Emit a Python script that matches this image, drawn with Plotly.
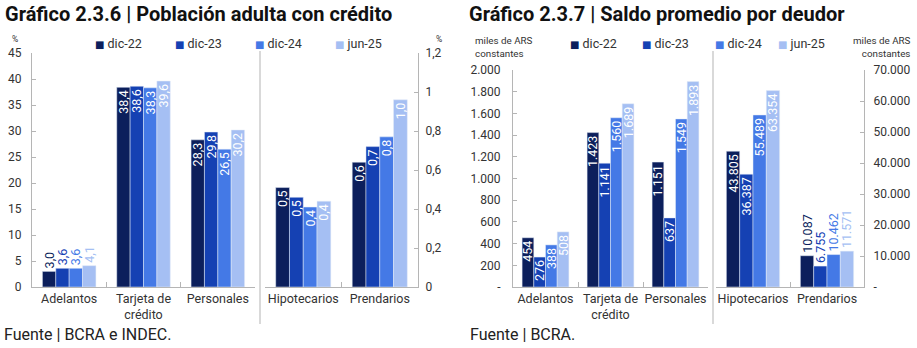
import plotly.graph_objects as go

W, H = 917, 348

series = ["dic-22", "dic-23", "dic-24", "jun-25"]
colors = ["#0C1F5C", "#1541B3", "#4479E6", "#A5BFF3"]

cat_left = ["Adelantos", "Tarjeta de<br>crédito", "Personales"]
cat_right = ["Hipotecarios", "Prendarios"]

# Gráfico 2.3.6 - Población adulta con crédito (%)
pob_dic22 = [3.0, 38.4, 28.3, 0.51, 0.64]
pob_dic23 = [3.6, 38.6, 29.8, 0.46, 0.72]
pob_dic24 = [3.6, 38.3, 26.5, 0.41, 0.77]
pob_jun25 = [4.1, 39.6, 30.2, 0.44, 0.96]
pob_textpos = ["outside", "inside", "inside", "inside", "inside"]

# Gráfico 2.3.7 - Saldo promedio por deudor (miles de ARS constantes)
saldo_dic22 = [454, 1423, 1151, 43805, 10087]
saldo_dic23 = [276, 1141, 637, 36387, 6755]
saldo_dic24 = [388, 1560, 1549, 55489, 10462]
saldo_jun25 = [508, 1689, 1893, 63354, 11571]
saldo_textpos = ["inside", "inside", "inside", "inside", "outside"]

pob_y1_ticks = [0, 5, 10, 15, 20, 25, 30, 35, 40, 45]
pob_y2_ticks = [0, 0.2, 0.4, 0.6, 0.8, 1.0, 1.2]
pob_y2_text = ["0", "0,2", "0,4", "0,6", "0,8", "1", "1,2"]
saldo_y1_ticks = [0, 200, 400, 600, 800, 1000, 1200, 1400, 1600, 1800, 2000]
saldo_y2_ticks = [0, 10000, 20000, 30000, 40000, 50000, 60000, 70000]

FONT = "Roboto"
AXC = "#B5B5B5"
TXT = "#333333"
LBL = 12.5


def px(x):
    return x / W


def py(y):
    return 1 - y / H


def fmt_pob(v):
    return f"{v:.1f}".replace(".", ",")


def fmt_saldo(v):
    return f"{v:,}".replace(",", ".")


fig = go.Figure()

pob_all = [pob_dic22, pob_dic23, pob_dic24, pob_jun25]
saldo_all = [saldo_dic22, saldo_dic23, saldo_dic24, saldo_jun25]

for name, col, vals in zip(series, colors, pob_all):
    for cats, sl, xa, ya in [(cat_left, slice(0, 3), "x", "y"), (cat_right, slice(3, 5), "x2", "y2")]:
        v = vals[sl]
        fig.add_trace(go.Bar(
            x=cats, y=v, name=name, marker_color=col, showlegend=False,
            text=[fmt_pob(a) for a in v], textposition=pob_textpos[sl],
            textangle=-90, insidetextanchor="end", constraintext="none",
            cliponaxis=False,
            insidetextfont=dict(color="white", size=LBL, family=FONT),
            outsidetextfont=dict(color=col, size=LBL, family=FONT),
            xaxis=xa, yaxis=ya, hoverinfo="skip"))

for name, col, vals in zip(series, colors, saldo_all):
    for cats, sl, xa, ya in [(cat_left, slice(0, 3), "x3", "y3"), (cat_right, slice(3, 5), "x4", "y4")]:
        v = vals[sl]
        fig.add_trace(go.Bar(
            x=cats, y=v, name=name, marker_color=col, showlegend=False,
            text=[fmt_saldo(a) for a in v], textposition=saldo_textpos[sl],
            textangle=-90, insidetextanchor="end", constraintext="none",
            cliponaxis=False,
            insidetextfont=dict(color="white", size=LBL, family=FONT),
            outsidetextfont=dict(color=col, size=LBL, family=FONT),
            xaxis=xa, yaxis=ya, hoverinfo="skip"))

xcommon = dict(type="category", showline=True, linecolor=AXC, linewidth=1,
               ticks="inside", tickson="boundaries", ticklen=5, tickcolor=AXC,
               showgrid=False, zeroline=False, fixedrange=True, automargin=False,
               tickangle=0, tickfont=dict(family=FONT, size=12.5, color=TXT))
ycommon = dict(showline=True, linecolor=AXC, linewidth=1, ticks="inside",
               ticklen=4, tickcolor=AXC, showgrid=False, zeroline=False,
               fixedrange=True, automargin=False,
               tickfont=dict(family=FONT, size=12, color=TXT))

dom_left = [py(287), py(53)]
dom_right = [py(287), py(70)]

fig.update_layout(
    width=W, height=H, margin=dict(l=0, r=0, t=0, b=0, autoexpand=False),
    paper_bgcolor="white", plot_bgcolor="white",
    barmode="group", bargap=0.28, bargroupgap=0,
    showlegend=False, hovermode=False,
    uniformtext=dict(minsize=LBL, mode="show"),
    font=dict(family=FONT, color=TXT),
    xaxis=dict(xcommon, domain=[px(32), px(255)], anchor="y", range=[-0.5, 2.5]),
    yaxis=dict(ycommon, domain=dom_left, anchor="x", range=[0, 45],
               tickvals=pob_y1_ticks, ticklabelstandoff=7),
    xaxis2=dict(xcommon, domain=[px(265), px(418)], anchor="y2", range=[-0.5, 1.5]),
    yaxis2=dict(ycommon, domain=dom_left, anchor="x2", side="right", range=[0, 1.2],
                tickvals=pob_y2_ticks, ticktext=pob_y2_text, ticklabelstandoff=4),
    xaxis3=dict(xcommon, domain=[px(513), px(708)], anchor="y3", range=[-0.5, 2.5]),
    yaxis3=dict(ycommon, domain=dom_right, anchor="x3", range=[0, 2000],
                tickvals=saldo_y1_ticks,
                ticktext=["-"] + [fmt_saldo(t) for t in saldo_y1_ticks[1:]],
                ticklabelstandoff=9),
    xaxis4=dict(xcommon, domain=[px(716), px(864)], anchor="y4", range=[-0.5, 1.5]),
    yaxis4=dict(ycommon, domain=dom_right, anchor="x4", side="right", range=[0, 70000],
                tickvals=saldo_y2_ticks,
                ticktext=["-"] + [fmt_saldo(t) for t in saldo_y2_ticks[1:]],
                ticklabelstandoff=6),
)

# dividers
for xd in (260, 713):
    fig.add_shape(type="line", xref="paper", yref="paper",
                  x0=px(xd), x1=px(xd), y0=py(324), y1=py(51),
                  line=dict(color="#CCCCCC", width=1.5))

ann = []


def add_text(x, y, text, size, xanchor="left", bold=False, color=TXT, align="left"):
    ann.append(dict(x=px(x), y=py(y), xref="paper", yref="paper", text=text,
                    showarrow=False, xanchor=xanchor, yanchor="middle", align=align,
                    font=dict(family=FONT, size=size, color=color,
                              weight="bold" if bold else "normal")))


# titles
add_text(3, 14, "Gráfico 2.3.6 | Población adulta con crédito", 20, bold=True, color="#111111")
add_text(467, 14, "Gráfico 2.3.7 | Saldo promedio por deudor", 20, bold=True, color="#111111")

# footers
add_text(2, 334, "Fuente | BCRA e INDEC.", 16, color="#222222")
add_text(468, 334, "Fuente | BCRA.", 16, color="#222222")

# units
add_text(15, 39, "%", 8.5, xanchor="center")
add_text(439, 39, "%", 8.5, xanchor="center")
add_text(473, 47, "miles de ARS<br>constantes", 9.8)
add_text(913, 47, "miles de ARS<br>constantes", 9.8, xanchor="right", align="right")

# legends (colored square glyph + label)
leg_left_x = [93, 173, 253, 333]
leg_right_x = [568, 640, 713, 776]
for lx_list in (leg_left_x, leg_right_x):
    for lx, name, col in zip(lx_list, series, colors):
        add_text(lx, 43, f"<span style='color:{col};font-family:DejaVu Sans;font-size:10px'>■</span> {name}", 12.5)

fig.update_layout(annotations=ann)

fig.write_html("out.html", config={"displayModeBar": False, "staticPlot": True},
               post_script="document.body.style.margin='0px';document.body.style.overflow='hidden';")
